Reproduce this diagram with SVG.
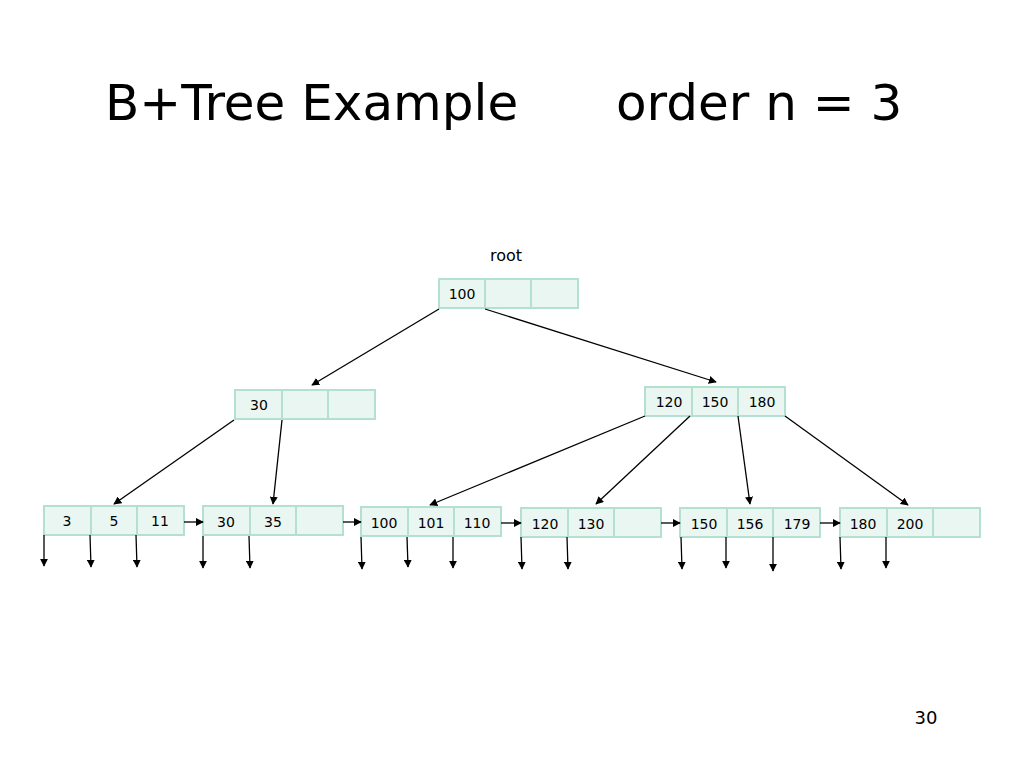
<svg xmlns="http://www.w3.org/2000/svg" width="1024" height="768" viewBox="0 0 1024 768">
<defs>
<style>
.c{fill:#eaf6f1;stroke:#b3e0cf;stroke-width:2}
.t{font-family:"DejaVu Sans",Verdana,sans-serif;font-size:14px;text-anchor:middle;fill:#000}
.h{font-family:"DejaVu Sans",Tahoma,sans-serif;font-size:50px;fill:#000}
.e{stroke:#000;stroke-width:1.3;fill:none;marker-end:url(#a)}
</style>
<marker id="a" viewBox="0 0 10 10" refX="9" refY="5" markerWidth="8" markerHeight="8" markerUnits="userSpaceOnUse" orient="auto"><path d="M0,0L10,5L0,10z" fill="#000"/></marker>
</defs>
<rect width="1024" height="768" fill="#fff"/>
<text class="h" x="105" y="120">B+Tree Example</text>
<text class="h" x="616" y="120">order n = 3</text>
<text class="t" x="506" y="261" style="font-size:16px">root</text>
<text class="t" x="926" y="724" style="font-size:18px">30</text>
<g id="root"><rect class="c" x="439" y="279" width="46" height="29"/><rect class="c" x="485" y="279" width="46" height="29"/><rect class="c" x="531" y="279" width="47" height="29"/><text class="t" x="462" y="299">100</text></g>
<g id="i1"><rect class="c" x="235" y="390" width="47" height="29"/><rect class="c" x="282" y="390" width="46" height="29"/><rect class="c" x="328" y="390" width="47" height="29"/><text class="t" x="259" y="410">30</text></g>
<g id="i2"><rect class="c" x="645" y="387" width="47" height="29"/><rect class="c" x="692" y="387" width="46" height="29"/><rect class="c" x="738" y="387" width="47" height="29"/><text class="t" x="669" y="407">120</text><text class="t" x="715" y="407">150</text><text class="t" x="762" y="407">180</text></g>
<g id="l1"><rect class="c" x="44" y="506" width="47" height="29"/><rect class="c" x="91" y="506" width="46" height="29"/><rect class="c" x="137" y="506" width="47" height="29"/><text class="t" x="67" y="526">3</text><text class="t" x="114" y="526">5</text><text class="t" x="160" y="526">11</text></g>
<g id="l2"><rect class="c" x="203" y="506" width="47" height="29"/><rect class="c" x="250" y="506" width="46" height="29"/><rect class="c" x="296" y="506" width="47" height="29"/><text class="t" x="226" y="527">30</text><text class="t" x="273" y="527">35</text></g>
<g id="l3"><rect class="c" x="361" y="507" width="47" height="29"/><rect class="c" x="408" y="507" width="46" height="29"/><rect class="c" x="454" y="507" width="47" height="29"/><text class="t" x="384" y="528">100</text><text class="t" x="431" y="528">101</text><text class="t" x="477" y="528">110</text></g>
<g id="l4"><rect class="c" x="521" y="508" width="47" height="29"/><rect class="c" x="568" y="508" width="46" height="29"/><rect class="c" x="614" y="508" width="47" height="29"/><text class="t" x="545" y="529">120</text><text class="t" x="591" y="529">130</text></g>
<g id="l5"><rect class="c" x="680" y="508" width="47" height="29"/><rect class="c" x="727" y="508" width="46" height="29"/><rect class="c" x="773" y="508" width="47" height="29"/><text class="t" x="704" y="529">150</text><text class="t" x="750" y="529">156</text><text class="t" x="797" y="529">179</text></g>
<g id="l6"><rect class="c" x="840" y="508" width="47" height="29"/><rect class="c" x="887" y="508" width="46" height="29"/><rect class="c" x="933" y="508" width="47" height="29"/><text class="t" x="863" y="529">180</text><text class="t" x="910" y="529">200</text></g>
<g id="connectors">
<path class="e" d="M439,309L312,385"/>
<path class="e" d="M485,309L716,382"/>
<path class="e" d="M234,420L114,504"/>
<path class="e" d="M282,420L273,504"/>
<path class="e" d="M645,416L430,505"/>
<path class="e" d="M690,416L596,504"/>
<path class="e" d="M738,416L750,504"/>
<path class="e" d="M785,416L908,505"/>
<path class="e" d="M184,522L203,522"/>
<path class="e" d="M343,522L361,522"/>
<path class="e" d="M501,523L521,523"/>
<path class="e" d="M661,523L680,523"/>
<path class="e" d="M820,523L840,523"/>
<path class="e" d="M44,535L44,566"/><path class="e" d="M90,535L91,567"/><path class="e" d="M136,535L137,567"/>
<path class="e" d="M203,536L203,568"/><path class="e" d="M249,536L250,568"/>
<path class="e" d="M361,537L362,569"/><path class="e" d="M407,537L408,567"/><path class="e" d="M453,537L453,568"/>
<path class="e" d="M521,537L522,569"/><path class="e" d="M567,537L568,569"/>
<path class="e" d="M681,537L682,569"/><path class="e" d="M726,537L726,568"/><path class="e" d="M773,537L773,571"/>
<path class="e" d="M840,537L841,569"/><path class="e" d="M886,537L886,568"/>
</g>
</svg>
